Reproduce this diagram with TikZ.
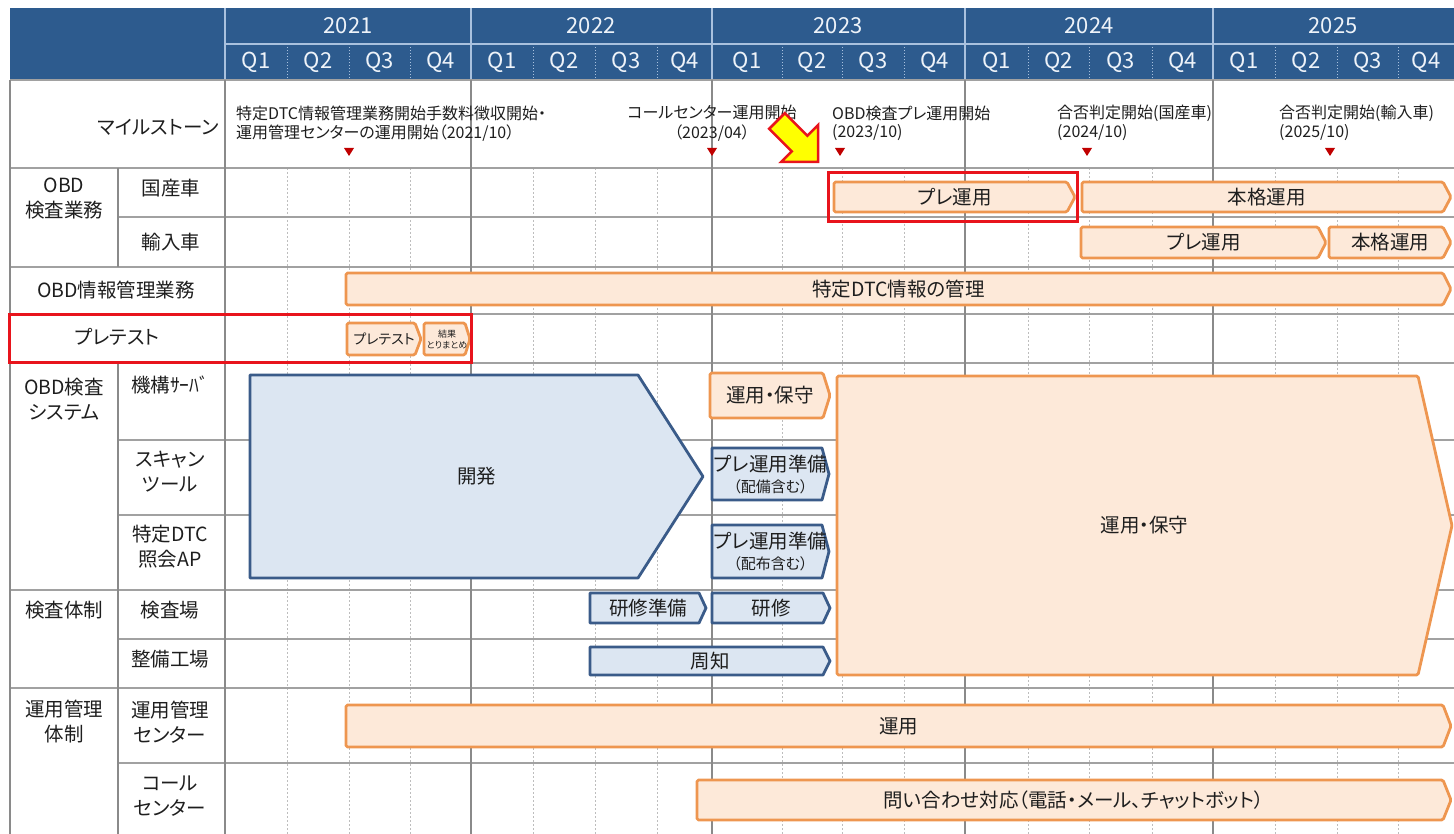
\documentclass[tikz,border=0pt]{standalone}
\usepackage{fontspec}
\setmainfont{Noto Sans CJK JP}[RawFeature=+palt]
\definecolor{hdr}{HTML}{2D5B8E}
\definecolor{hdrline}{HTML}{A9C1DE}
\definecolor{hdrtxt}{HTML}{EEF3F9}
\definecolor{gridd}{HTML}{8A8A8A}
\definecolor{gridl}{HTML}{BDBDBD}
\definecolor{orl}{HTML}{EE9650}
\definecolor{orf}{HTML}{FDE9D9}
\definecolor{bll}{HTML}{3A5B89}
\definecolor{blf}{HTML}{DCE6F2}
\definecolor{redb}{HTML}{E8141C}
\definecolor{mkr}{HTML}{C00000}
\definecolor{txt}{HTML}{1E1E1E}
\definecolor{yel}{HTML}{FFFF00}
\newcommand\chev[9]{%
  \draw[#2] (#3,#5) -- ({#4-#7},#5) -- (#4,{(#5+#6)/2}) -- ({#4-#7},#6) -- (#3,#6) -- cycle;
  \node[bartext,#8] (#1) at ({(#3+#4)/2},{(#5+#6)/2}) {#9};}
\begin{document}
\begin{tikzpicture}[x=1pt,y=-1pt,
  orbar/.style={draw=orl, fill=orf, line width=2.8pt, rounded corners=1.5pt, line join=round},
  blbar/.style={draw=bll, fill=blf, line width=2.8pt, line join=round},
  bartext/.style={font=\fontsize{19.5}{23}\selectfont, text=txt, inner sep=0pt, align=center},
  lab/.style={font=\fontsize{19.5}{25}\selectfont, text=txt, align=center, inner sep=0pt},
  ms/.style={font=\fontsize{16}{20}\selectfont, text=txt, inner sep=0pt, anchor=west},
  hdrtext/.style={font=\fontsize{22}{24}\selectfont, text=hdrtxt, inner sep=0pt},
  hline/.style={draw=gridd!80, line width=1.1pt},
  vline/.style={draw=gridd, line width=1.1pt},
  qline/.style={draw=gridl, line width=0.9pt, dash pattern=on 2pt off 2pt}]
\useasboundingbox (0,0) rectangle (1454,834);
% ---------- header
\fill[hdr] (10,8) rectangle (1454,80);
\foreach \x in {225,471,712,965,1213} \draw[hdrline, line width=1.2pt] (\x,8) -- (\x,80);
\draw[hdrline, line width=1.2pt] (225,44) -- (1454,44);
\foreach \x in {287,349,410,533,595,657,782,842,904,1028,1089,1152,1275,1337,1398}
  \draw[hdrline, line width=0.9pt, dash pattern=on 1.5pt off 1.5pt] (\x,44) -- (\x,80);
\foreach \yr/\x in {2021/348,2022/591,2023/838,2024/1089,2025/1333}
  \node[hdrtext] (y\yr) at (\x,26) {\yr};
\foreach \x/\q [count=\i] in {256/1,318/2,379.5/3,440.5/4,502/1,564/2,626/3,684.5/4,747/1,812/2,873/3,934.5/4,996.5/1,1058.5/2,1120.5/3,1182.5/4,1244/1,1306/2,1367.5/3,1426/4}
  \node[hdrtext] (q\i) at (\x,62) {Q\q};
% ---------- grid
\foreach \x in {287,349,410,533,595,657,782,842,904,1028,1089,1152,1275,1337,1398}
  \draw[qline] (\x,168) -- (\x,834);
\foreach \y in {80,168,267,314,363,590,688} \draw[hline] (10,\y) -- (1454,\y);
\foreach \y in {217,440,515,639,763} \draw[hline] (118,\y) -- (1454,\y);
\draw[vline] (10,80) -- (10,834);
\draw[vline] (118,168) -- (118,267);
\draw[vline] (118,363) -- (118,834);
\foreach \x in {225,471,712,965,1213} \draw[vline] (\x,80) -- (\x,834);
% ---------- left labels
\node[lab, anchor=east] (msl) at (219,127) {マイルストーン};
\node[lab] (g1) at (64,199) {OBD\\検査業務};
\node[lab] (s1) at (171,188) {国産車};
\node[lab] (s2) at (171,242) {輸入車};
\node[lab] (g2) at (116,290) {OBD情報管理業務};
\node[lab] (g3) at (117,337) {プレテスト};
\node[lab] (g4) at (64,399) {OBD検査\\システム};
\node[lab] (s3) at (170,385) {機構ｻｰﾊﾞ};
\node[lab] (s4) at (170,472) {スキャン\\ツール};
\node[lab] (s5) at (170,547) {特定DTC\\照会AP};
\node[lab] (g5) at (64,610) {検査体制};
\node[lab] (s6) at (170,610) {検査場};
\node[lab] (s7) at (170,659) {整備工場};
\node[lab] (g6) at (64,722) {運用管理\\体制};
\node[lab] (s8) at (170,722) {運用管理\\センター};
\node[lab] (s9) at (170,796) {コール\\センター};
% ---------- milestones
\node[ms] (m1a) at (236,113) {特定DTC情報管理業務開始手数料徴収開始・};
\node[ms] (m1b) at (236,133) {運用管理センターの運用開始（2021/10）};
\node[ms, anchor=center, align=center, font=\fontsize{16}{20}\selectfont] (m2) at (712,123) {コールセンター運用開始\\（2023/04）};
\node[ms] (m3a) at (832,113) {OBD検査プレ運用開始};
\node[ms] (m3b) at (832,133) {(2023/10)};
\node[ms] (m4a) at (1057,113) {合否判定開始(国産車)};
\node[ms] (m4b) at (1057,133) {(2024/10)};
\node[ms] (m5a) at (1279,113) {合否判定開始(輸入車)};
\node[ms] (m5b) at (1279,133) {(2025/10)};
\foreach \x in {349,712,840,1087,1330}
  \fill[mkr] ({\x-5},148) -- ({\x+5},148) -- (\x,156) -- cycle;
% ---------- bars
\chev{kpre}{orbar}{834}{1075}{182}{212}{8}{}{プレ運用}
\chev{khon}{orbar}{1082}{1451}{182}{212}{8}{}{本格運用}
\chev{ypre}{orbar}{1081}{1326}{227}{258}{8}{}{プレ運用}
\chev{yhon}{orbar}{1329}{1451}{227}{258}{8}{}{本格運用}
\chev{dtc}{orbar}{346}{1451}{273}{305}{8}{}{特定DTC情報の管理}
\chev{pt}{orbar}{347}{421}{323}{355}{6}{font=\fontsize{14}{16}\selectfont}{プレテスト}
\chev{kk}{orbar}{424}{470}{323}{355}{5}{font=\fontsize{9}{11}\selectfont}{結果\\とりまとめ}
\chev{dev}{blbar}{250}{703}{375}{578}{65}{}{開発}
\chev{unh1}{orbar}{710}{830}{373}{418}{7}{}{運用・保守}
\chev{pre1}{blbar}{712}{829}{448}{500}{7}{font=\fontsize{19.5}{21}\selectfont}{プレ運用準備\\\fontsize{15}{18}\selectfont（配備含む）}
\chev{pre2}{blbar}{712}{829}{525}{578}{7}{font=\fontsize{19.5}{21}\selectfont}{プレ運用準備\\\fontsize{15}{18}\selectfont（配布含む）}
\chev{kenj}{blbar}{590}{706}{593}{623}{7}{}{研修準備}
\chev{ken}{blbar}{712}{830}{593}{623}{7}{}{研修}
\chev{shu}{blbar}{590}{830}{647}{675}{7}{}{周知}
\chev{unh2}{orbar}{837}{1452}{376}{675}{34}{}{運用・保守}
\chev{un}{orbar}{346}{1451}{705}{747}{8}{}{運用}
\chev{toi}{orbar}{697}{1451}{780}{820}{8}{}{問い合わせ対応（電話・メール、チャットボット）}
% ---------- highlights
\draw[redb, line width=3pt] (828,173) rectangle (1077,222);
\draw[redb, line width=3pt] (9,315) rectangle (471,362);
\draw[redb, fill=yel, line width=2.5pt, line join=miter]
  (784.8,113.2) -- (807.4,135.8) -- (818,125.2) -- (818,162) -- (781.2,162)
  -- (791.8,151.4) -- (769.2,128.8) -- cycle;
\end{tikzpicture}
\end{document}
